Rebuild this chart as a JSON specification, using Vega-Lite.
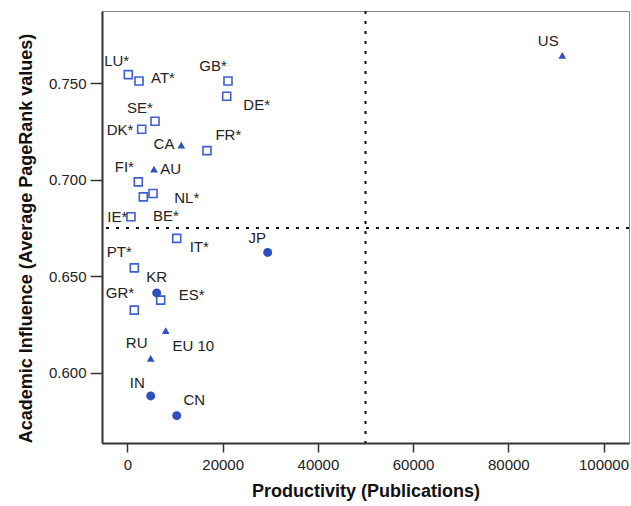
{
  "$schema": "https://vega.github.io/schema/vega-lite/v6.json",
  "width": 527,
  "height": 432,
  "autosize": {"type": "none"},
  "padding": {"left": 102, "top": 11, "right": 2, "bottom": 63},
  "background": "white",
  "config": {
    "view": {"stroke": "#888", "strokeWidth": 1},
    "font": "Liberation Sans",
    "axis": {
      "grid": false,
      "domainColor": "#333",
      "domainWidth": 2,
      "tickColor": "#333",
      "tickWidth": 1.5,
      "labelFont": "Liberation Sans",
      "labelFontSize": 15,
      "labelColor": "#222",
      "titleFont": "Liberation Sans",
      "titleFontSize": 18,
      "titleFontWeight": "bold",
      "titleColor": "#111"
    }
  },
  "data": {
    "values": [
      {"country": "LU*", "pubs": 170, "pr": 0.7545, "group": "EU", "lx": -2270, "ly": 0.7615},
      {"country": "AT*", "pubs": 2420, "pr": 0.7512, "group": "EU", "lx": 7460, "ly": 0.7527},
      {"country": "GB*", "pubs": 21110, "pr": 0.7512, "group": "EU", "lx": 17960, "ly": 0.7590},
      {"country": "DE*", "pubs": 20840, "pr": 0.7433, "group": "EU", "lx": 27140, "ly": 0.7390},
      {"country": "SE*", "pubs": 5780, "pr": 0.7303, "group": "EU", "lx": 2630, "ly": 0.7374},
      {"country": "DK*", "pubs": 2980, "pr": 0.7262, "group": "EU", "lx": -1580, "ly": 0.7260},
      {"country": "CA", "pubs": 11300, "pr": 0.7179, "group": "Other", "lx": 7670, "ly": 0.7184},
      {"country": "FR*", "pubs": 16700, "pr": 0.7151, "group": "EU", "lx": 21180, "ly": 0.7231},
      {"country": "AU", "pubs": 5570, "pr": 0.7055, "group": "Other", "lx": 9080, "ly": 0.7058},
      {"country": "FI*", "pubs": 2270, "pr": 0.6989, "group": "EU", "lx": -670, "ly": 0.7067},
      {"country": "NL*", "pubs": 5360, "pr": 0.6929, "group": "EU", "lx": 12440, "ly": 0.6903},
      {"country": "BE*", "pubs": 3320, "pr": 0.6911, "group": "EU", "lx": 8090, "ly": 0.6811},
      {"country": "IE*", "pubs": 735, "pr": 0.6808, "group": "EU", "lx": -2140, "ly": 0.6808},
      {"country": "IT*", "pubs": 10340, "pr": 0.6696, "group": "EU", "lx": 15080, "ly": 0.6652},
      {"country": "JP", "pubs": 29450, "pr": 0.6623, "group": "Asia", "lx": 27270, "ly": 0.6696},
      {"country": "PT*", "pubs": 1430, "pr": 0.6543, "group": "EU", "lx": -1720, "ly": 0.6626},
      {"country": "KR", "pubs": 6130, "pr": 0.6413, "group": "Asia", "lx": 6130, "ly": 0.6494},
      {"country": "ES*", "pubs": 6970, "pr": 0.6376, "group": "EU", "lx": 13490, "ly": 0.6402},
      {"country": "GR*", "pubs": 1430, "pr": 0.6324, "group": "EU", "lx": -1580, "ly": 0.6411},
      {"country": "EU 10", "pubs": 8030, "pr": 0.6218, "group": "Other", "lx": 13820, "ly": 0.6140},
      {"country": "RU", "pubs": 4870, "pr": 0.6074, "group": "Other", "lx": 1930, "ly": 0.6152},
      {"country": "IN", "pubs": 4870, "pr": 0.5879, "group": "Asia", "lx": 2060, "ly": 0.5948},
      {"country": "CN", "pubs": 10340, "pr": 0.5777, "group": "Asia", "lx": 14030, "ly": 0.5858},
      {"country": "US", "pubs": 91340, "pr": 0.7645, "group": "Other", "lx": 88400, "ly": 0.7719}
    ]
  },
  "encoding": {
    "x": {
      "field": "pubs", "type": "quantitative",
      "scale": {"domain": [-5357, 105357], "nice": false, "zero": false},
      "axis": {"title": "Productivity (Publications)", "values": [0, 20000, 40000, 60000, 80000, 100000], "format": "d", "tickSize": 9, "labelPadding": 5, "titlePadding": 10}
    },
    "y": {
      "field": "pr", "type": "quantitative",
      "scale": {"domain": [0.5635, 0.7875], "nice": false, "zero": false},
      "axis": {"title": "Academic Influence (Average PageRank values)", "values": [0.6, 0.65, 0.7, 0.75], "format": ".3f", "tickSize": 12, "labelPadding": 4, "titlePadding": 13, "titleY": 227}
    }
  },
  "layer": [
    {
      "mark": {"type": "rule", "color": "#111", "strokeWidth": 2, "strokeDash": [3, 7]},
      "data": {"values": [{"v": 50000}]},
      "encoding": {"x": {"field": "v", "type": "quantitative"}, "y": null}
    },
    {
      "mark": {"type": "rule", "color": "#111", "strokeWidth": 2, "strokeDash": [3, 7]},
      "data": {"values": [{"h": 0.675}]},
      "encoding": {"y": {"field": "h", "type": "quantitative"}, "x": null}
    },
    {
      "transform": [{"filter": "datum.group === 'EU'"}],
      "mark": {"type": "point", "shape": "square", "filled": false, "stroke": "#3d5fcf", "strokeWidth": 1.6, "size": 64, "opacity": 1}
    },
    {
      "transform": [{"filter": "datum.group === 'Other'"}],
      "mark": {"type": "point", "shape": "triangle-up", "filled": true, "color": "#2f4fc0", "size": 60, "opacity": 1}
    },
    {
      "transform": [{"filter": "datum.group === 'Asia'"}],
      "mark": {"type": "point", "shape": "circle", "filled": true, "color": "#2f4fc0", "size": 80, "opacity": 1}
    },
    {
      "mark": {"type": "text", "font": "Liberation Sans", "fontSize": 15, "color": "#222", "align": "center", "baseline": "middle"},
      "encoding": {
        "x": {"field": "lx", "type": "quantitative"},
        "y": {"field": "ly", "type": "quantitative"},
        "text": {"field": "country"}
      }
    }
  ]
}
